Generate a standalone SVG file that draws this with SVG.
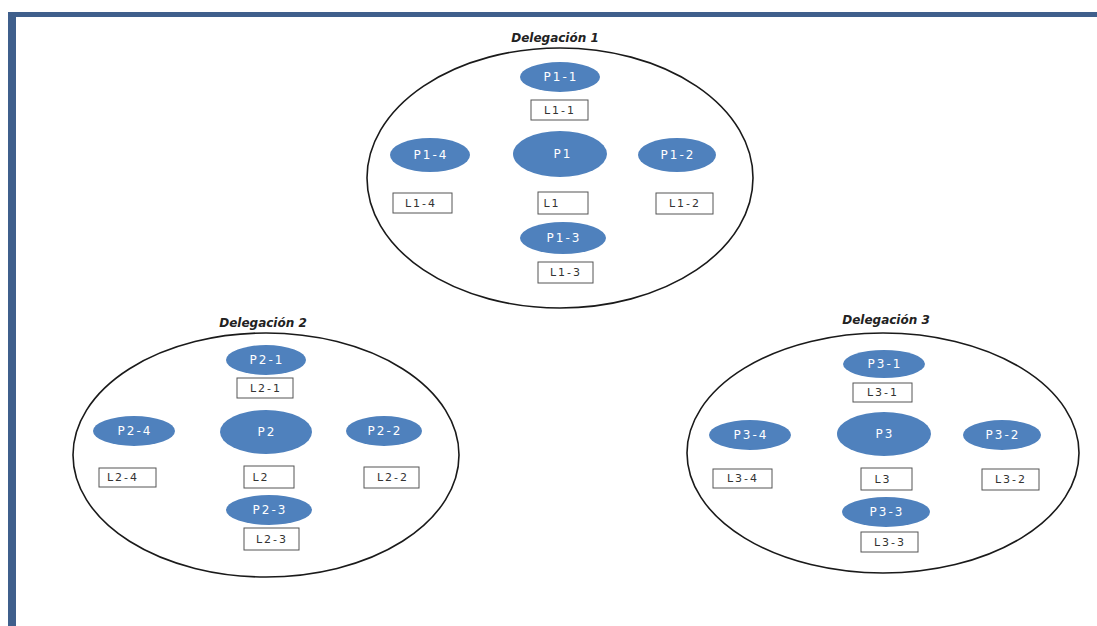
<svg xmlns="http://www.w3.org/2000/svg" width="1097" height="626" viewBox="0 0 1097 626">
<style>
.bg{fill:#ffffff}
.frame{fill:#3f5f8c}
.deleg{fill:none;stroke:#1a1a1a;stroke-width:1.6}
.title{font-family:"DejaVu Sans",Verdana,sans-serif;font-size:12px;font-weight:bold;font-style:italic;fill:#222;text-anchor:middle}
.p{fill:#4f81bd}
.pt{font-family:"DejaVu Sans",Verdana,sans-serif;font-size:12px;letter-spacing:2px;fill:#ffffff;text-anchor:middle;dominant-baseline:central}
.lb{fill:#ffffff;stroke:#555;stroke-width:1}
.lt{font-family:"DejaVu Sans",Verdana,sans-serif;font-size:11px;letter-spacing:2px;fill:#333;text-anchor:middle;dominant-baseline:central}
</style>
<rect class="bg" x="0" y="0" width="1097" height="626"/>
<rect class="frame" x="8" y="12" width="1089" height="5"/>
<rect class="frame" x="8" y="12" width="8" height="614"/>
<g id="connectors"></g>

<g id="delegacion1">
<text class="title" x="555" y="42">Delegación 1</text>
<ellipse class="deleg" cx="560" cy="178" rx="193" ry="130"/>
</g>
<g id="P1-1"><ellipse class="p" cx="560" cy="77" rx="40" ry="15"/><text class="pt" x="561" y="77">P1-1</text></g>
<g id="L1-1"><rect class="lb" x="531" y="100" width="57" height="20"/><text class="lt" x="560" y="110">L1-1</text></g>
<g id="P1-4"><ellipse class="p" cx="430" cy="155" rx="40" ry="17"/><text class="pt" x="431" y="155">P1-4</text></g>
<g id="P1"><ellipse class="p" cx="560" cy="154" rx="47" ry="23"/><text class="pt" x="563" y="154">P1</text></g>
<g id="P1-2"><ellipse class="p" cx="677" cy="155" rx="39" ry="17"/><text class="pt" x="678" y="155">P1-2</text></g>
<g id="L1-4"><rect class="lb" x="393" y="193" width="59" height="20"/><text class="lt" x="421" y="203">L1-4</text></g>
<g id="L1"><rect class="lb" x="538" y="192" width="50" height="22"/><text class="lt" x="552" y="203">L1</text></g>
<g id="L1-2"><rect class="lb" x="656" y="193" width="57" height="21"/><text class="lt" x="685" y="203.5">L1-2</text></g>
<g id="P1-3"><ellipse class="p" cx="563" cy="238" rx="43" ry="16"/><text class="pt" x="564" y="238">P1-3</text></g>
<g id="L1-3"><rect class="lb" x="538" y="262" width="55" height="21"/><text class="lt" x="566" y="272.5">L1-3</text></g>

<g id="delegacion2">
<text class="title" x="263" y="327">Delegación 2</text>
<ellipse class="deleg" cx="266" cy="455" rx="193" ry="122"/>
</g>
<g id="P2-1"><ellipse class="p" cx="266" cy="360" rx="40" ry="15"/><text class="pt" x="267" y="360">P2-1</text></g>
<g id="L2-1"><rect class="lb" x="237" y="378" width="56" height="20"/><text class="lt" x="266" y="388">L2-1</text></g>
<g id="P2-4"><ellipse class="p" cx="134" cy="431" rx="41" ry="15"/><text class="pt" x="135" y="431">P2-4</text></g>
<g id="P2"><ellipse class="p" cx="266" cy="432" rx="46" ry="22"/><text class="pt" x="267" y="432">P2</text></g>
<g id="P2-2"><ellipse class="p" cx="384" cy="431" rx="38" ry="15"/><text class="pt" x="385" y="431">P2-2</text></g>
<g id="L2-4"><rect class="lb" x="99" y="468" width="57" height="19"/><text class="lt" x="123" y="477.5">L2-4</text></g>
<g id="L2"><rect class="lb" x="244" y="466" width="50" height="22"/><text class="lt" x="261" y="477">L2</text></g>
<g id="L2-2"><rect class="lb" x="364" y="467" width="55" height="21"/><text class="lt" x="393" y="477.5">L2-2</text></g>
<g id="P2-3"><ellipse class="p" cx="269" cy="510" rx="43" ry="15"/><text class="pt" x="270" y="510">P2-3</text></g>
<g id="L2-3"><rect class="lb" x="244" y="528" width="55" height="22"/><text class="lt" x="272" y="539">L2-3</text></g>

<g id="delegacion3">
<text class="title" x="886" y="324">Delegación 3</text>
<ellipse class="deleg" cx="883" cy="453" rx="196" ry="120"/>
</g>
<g id="P3-1"><ellipse class="p" cx="884" cy="364" rx="41" ry="14"/><text class="pt" x="885" y="364">P3-1</text></g>
<g id="L3-1"><rect class="lb" x="853" y="383" width="59" height="19"/><text class="lt" x="883" y="392.5">L3-1</text></g>
<g id="P3-4"><ellipse class="p" cx="750" cy="435" rx="41" ry="15"/><text class="pt" x="751" y="435">P3-4</text></g>
<g id="P3"><ellipse class="p" cx="884" cy="434" rx="47" ry="22"/><text class="pt" x="885" y="434">P3</text></g>
<g id="P3-2"><ellipse class="p" cx="1002" cy="435" rx="39" ry="15"/><text class="pt" x="1003" y="435">P3-2</text></g>
<g id="L3-4"><rect class="lb" x="713" y="469" width="59" height="19"/><text class="lt" x="743" y="478.5">L3-4</text></g>
<g id="L3"><rect class="lb" x="861" y="468" width="51" height="22"/><text class="lt" x="883" y="479">L3</text></g>
<g id="L3-2"><rect class="lb" x="982" y="469" width="57" height="21"/><text class="lt" x="1011" y="479.5">L3-2</text></g>
<g id="P3-3"><ellipse class="p" cx="886" cy="512" rx="44" ry="15"/><text class="pt" x="887" y="512">P3-3</text></g>
<g id="L3-3"><rect class="lb" x="861" y="532" width="57" height="20"/><text class="lt" x="890" y="542">L3-3</text></g>
</svg>
